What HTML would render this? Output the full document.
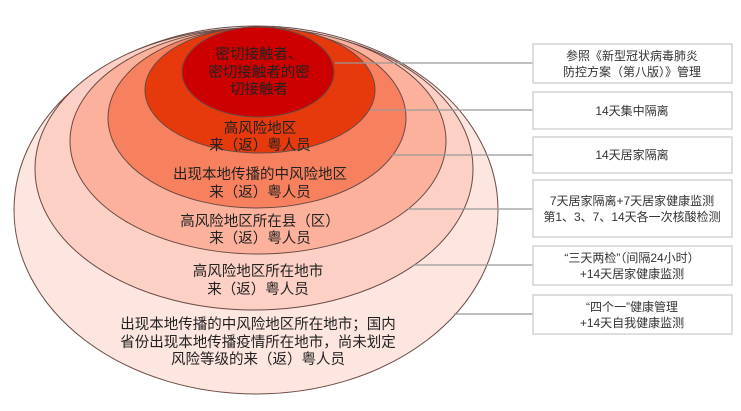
<!DOCTYPE html>
<html><head><meta charset="utf-8"><style>
html,body{margin:0;padding:0;background:#fff;}
svg{display:block;}
text{font-family:"Liberation Sans","Noto Sans CJK SC",sans-serif;}
.c{font-size:14.5px;fill:#222;text-anchor:middle;}
.b{font-size:12px;fill:#333;text-anchor:middle;}
</style></head><body>
<svg width="741" height="411" viewBox="0 0 741 411" xmlns="http://www.w3.org/2000/svg">
<g stroke="#6a4a44" stroke-width="1">
<ellipse cx="256" cy="210" rx="242" ry="184" fill="#fde5e0"/>
<ellipse cx="254" cy="169" rx="219" ry="141" fill="#fcd0c5"/>
<ellipse cx="258" cy="141" rx="188" ry="113" fill="#fbb19c"/>
<ellipse cx="257" cy="118" rx="149" ry="90" fill="#f7815f"/>
<ellipse cx="260" cy="90" rx="115" ry="63" fill="#e63a0c"/>
<ellipse cx="258" cy="72" rx="76" ry="45" fill="#cc0000"/>
</g>
<g stroke="#999" stroke-width="1.2">
<line x1="335" y1="63" x2="533" y2="63"/>
<line x1="370" y1="110" x2="533" y2="110"/>
<line x1="392" y1="155" x2="533" y2="155"/>
<line x1="408" y1="209" x2="533" y2="209"/>
<line x1="413" y1="265" x2="533" y2="265"/>
<line x1="454" y1="314" x2="533" y2="314"/>
</g>
<text class="c" x="259" y="59">密切接触者、</text>
<text class="c" x="259" y="77">密切接触者的密</text>
<text class="c" x="259" y="94">切接触者</text>
<text class="c" x="260" y="133">高风险地区</text>
<text class="c" x="260" y="150">来（返）粤人员</text>
<text class="c" x="260" y="179">出现本地传播的中风险地区</text>
<text class="c" x="260" y="197">来（返）粤人员</text>
<text class="c" x="260" y="226">高风险地区所在县（区）</text>
<text class="c" x="260" y="243">来（返）粤人员</text>
<text class="c" x="258" y="276">高风险地区所在地市</text>
<text class="c" x="258" y="294">来（返）粤人员</text>
<text class="c" x="258" y="329">出现本地传播的中风险地区所在地市；国内</text>
<text class="c" x="258" y="347">省份出现本地传播疫情所在地市，尚未划定</text>
<text class="c" x="258" y="364">风险等级的来（返）粤人员</text>
<g fill="#fff" stroke="#d4d4d4" stroke-width="1.5">
<rect x="533" y="44" width="199" height="39"/>
<rect x="533" y="92" width="199" height="37"/>
<rect x="533" y="137" width="199" height="36"/>
<rect x="533" y="180" width="199" height="57"/>
<rect x="533" y="246" width="199" height="39"/>
<rect x="533" y="295" width="199" height="39"/>
</g>
<text class="b" x="632" y="60">参照《新型冠状病毒肺炎</text>
<text class="b" x="632" y="76">防控方案（第八版）》管理</text>
<text class="b" x="632" y="115">14天集中隔离</text>
<text class="b" x="632" y="159">14天居家隔离</text>
<text class="b" x="632" y="205">7天居家隔离+7天居家健康监测</text>
<text class="b" x="632" y="221">第1、3、7、14天各一次核酸检测</text>
<text class="b" x="632" y="262">“三天两检”（间隔24小时）</text>
<text class="b" x="632" y="278">+14天居家健康监测</text>
<text class="b" x="632" y="311">“四个一”健康管理</text>
<text class="b" x="632" y="327">+14天自我健康监测</text>
</svg>
</body></html>
